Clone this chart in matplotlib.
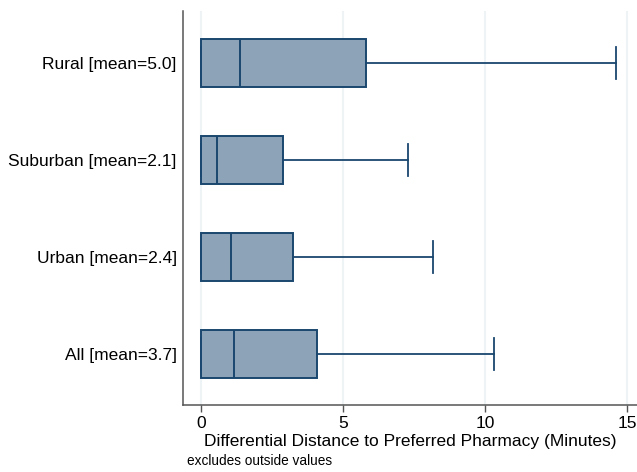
import matplotlib.pyplot as plt

# Differential distance to preferred pharmacy, by area type (minutes)
groups = ["All", "Urban", "Suburban", "Rural"]
means = [3.7, 2.4, 2.1, 5.0]
q1 = [0.0, 0.0, 0.0, 0.0]
medians = [1.16, 1.06, 0.58, 1.39]
q3 = [4.08, 3.24, 2.89, 5.81]
whisk_lo = [0.0, 0.0, 0.0, 0.0]
whisk_hi = [10.32, 8.17, 7.29, 14.61]
xticks = [0, 5, 10, 15]

navy = "#1A476F"
fill = "#8DA3B8"

plt.rcParams["font.family"] = ["Liberation Sans", "DejaVu Sans"]

fig = plt.figure(figsize=(6.37, 4.72), dpi=100)
ax = fig.add_axes([0.2873, 0.1419, 0.7127, 0.8348])

stats = []
for i in range(len(groups)):
    stats.append({
        "med": medians[i], "q1": q1[i], "q3": q3[i],
        "whislo": whisk_lo[i], "whishi": whisk_hi[i], "fliers": [],
    })

labels = [f"{g} [mean={m:.1f}]" for g, m in zip(groups, means)]
pos = list(range(1, len(groups) + 1))

ax.bxp(stats, positions=pos, widths=0.495, capwidths=0.33,
       orientation="horizontal", patch_artist=True, showfliers=False,
       boxprops=dict(facecolor=fill, edgecolor=navy, linewidth=1.4),
       medianprops=dict(color=navy, linewidth=1.4),
       whiskerprops=dict(color=navy, linewidth=1.3),
       capprops=dict(color=navy, linewidth=1.3))

ax.set_yticks(pos)
ax.set_yticklabels(labels, fontsize=12.5)
ax.tick_params(axis="y", length=0, pad=4.5)
ax.set_xticks(xticks)
ax.set_xticklabels([str(t) for t in xticks], fontsize=12.5)
ax.tick_params(axis="x", length=5, width=1, color="#555555", pad=3)

ax.set_xlim(-0.634, 15.35)
ax.set_ylim(0.474, 4.531)

ax.grid(axis="x", color="#EEF4F5", linewidth=1.5)
ax.set_axisbelow(True)

for s in ["top", "right"]:
    ax.spines[s].set_visible(False)
for s in ["left", "bottom"]:
    ax.spines[s].set_color("#555555")
    ax.spines[s].set_linewidth(1.1)

ax.set_xlabel("Differential Distance to Preferred Pharmacy (Minutes)",
              fontsize=12.5, labelpad=2)
fig.text(187 / 637, 1 - 461 / 472, "excludes outside values",
         fontsize=9.8, va="center", ha="left")

fig.savefig("out.png", dpi=100)
